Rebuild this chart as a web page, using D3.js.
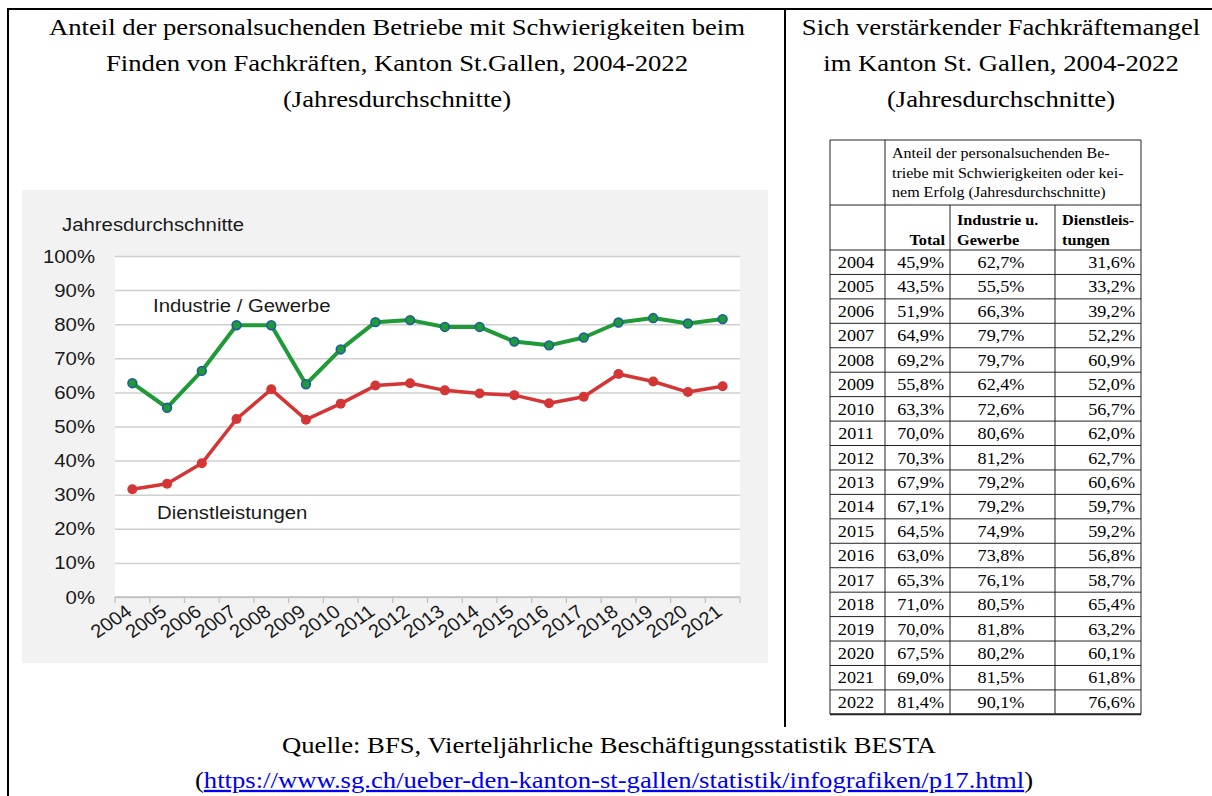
<!DOCTYPE html>
<html>
<head>
<meta charset="utf-8">
<title>Fachkräftemangel St.Gallen</title>
<style type="text/css">
    body { margin: 0; background: #fff; }
    svg { display: block; }
    .serif { font-family: "Liberation Serif", "Times New Roman", serif; fill: #000; }
    .sans { font-family: "Liberation Sans", Arial, sans-serif; fill: #1a1a1a; }
    .grid line { stroke: #cfcfcf; stroke-width: 1.5px; }
    .grid path { display: none; }
    .frame { stroke: #000; stroke-width: 2px; }
    .tbl { stroke: #222; stroke-width: 1px; }
</style>
</head>
<body>
<script src="https://cdn.jsdelivr.net/npm/d3@7"></script>
<script>
    var tableYears = [2004, 2005, 2006, 2007, 2008, 2009, 2010, 2011, 2012, 2013,
                      2014, 2015, 2016, 2017, 2018, 2019, 2020, 2021, 2022];
    var totalVals = [45.9, 43.5, 51.9, 64.9, 69.2, 55.8, 63.3, 70.0, 70.3, 67.9,
                     67.1, 64.5, 63.0, 65.3, 71.0, 70.0, 67.5, 69.0, 81.4];
    var industrieVals = [62.7, 55.5, 66.3, 79.7, 79.7, 62.4, 72.6, 80.6, 81.2, 79.2,
                         79.2, 74.9, 73.8, 76.1, 80.5, 81.8, 80.2, 81.5, 90.1];
    var dienstVals = [31.6, 33.2, 39.2, 52.2, 60.9, 52.0, 56.7, 62.0, 62.7, 60.6,
                      59.7, 59.2, 56.8, 58.7, 65.4, 63.2, 60.1, 61.8, 76.6];
    // the chart only runs to 2021
    var chartYears = tableYears.slice(0, 18);
    var yTicks = [0, 10, 20, 30, 40, 50, 60, 70, 80, 90, 100];

    var width = 1212, height = 796;
    // the source picture is stretched sideways, so text is too
    var serifStretch = 1.16, sansStretch = 1.1, tableStretch = 1.1;

    var svg = d3.select("body").append("svg")
        .attr("width", width)
        .attr("height", height);

    //  put a text at (x, y) and widen it by sx
    function stretched(parent, cls, x, y, sx, size, anchor, txt) {
        return parent.append("text").attr("class", cls)
            .attr("transform", "translate(" + x + "," + y + ") scale(" + sx + ",1)")
            .attr("text-anchor", anchor || "start")
            .style("font-size", size + "px")
            .text(txt);
    }

    // page frame
    svg.append("line").attr("class", "frame").attr("x1", 7).attr("x2", width).attr("y1", 9).attr("y2", 9);
    svg.append("line").attr("class", "frame").attr("x1", 8).attr("x2", 8).attr("y1", 8).attr("y2", height);
    svg.append("line").attr("class", "frame").attr("x1", 785).attr("x2", 785).attr("y1", 8).attr("y2", 727);

    // titles
    var leftTitle = ["Anteil der personalsuchenden Betriebe mit Schwierigkeiten beim",
                     "Finden von Fachkräften, Kanton St.Gallen, 2004-2022",
                     "(Jahresdurchschnitte)"];
    var rightTitle = ["Sich verstärkender Fachkräftemangel",
                      "im Kanton St. Gallen, 2004-2022",
                      "(Jahresdurchschnitte)"];
    leftTitle.forEach(function (t, i) {
        stretched(svg, "serif", 397, 35 + i * 36, serifStretch, 23, "middle", t);
    });
    rightTitle.forEach(function (t, i) {
        stretched(svg, "serif", 1001, 35 + i * 36, serifStretch, 23, "middle", t);
    });

    // ---- line chart ----
    var chart = svg.append("g");
    chart.append("rect").attr("x", 22).attr("y", 190).attr("width", 746).attr("height", 473).attr("fill", "#f2f2f2");

    var plotL = 115, plotR = 740, plotT = 256, plotB = 597;
    chart.append("rect").attr("x", plotL).attr("y", plotT)
        .attr("width", plotR - plotL).attr("height", plotB - plotT).attr("fill", "#fff");

    var x = d3.scaleBand().domain(chartYears).range([plotL, plotR]);
    var y = d3.scaleLinear().domain([0, 100]).range([plotB, plotT]);

    // gridlines
    chart.append("g").attr("class", "grid")
        .attr("transform", "translate(" + plotL + ",0)")
        .call(d3.axisLeft(y).tickValues(yTicks).tickSize(-(plotR - plotL)).tickFormat(""));
    // y labels
    yTicks.forEach(function (t) {
        stretched(chart, "sans", 95, y(t) + 6.5, sansStretch, 18.5, "end", t + "%");
    });

    // x baseline with tick marks between categories
    chart.append("line").attr("x1", plotL).attr("x2", plotR).attr("y1", plotB).attr("y2", plotB)
        .attr("stroke", "#bfbfbf").attr("stroke-width", 1.5);
    chart.append("g").selectAll("line").data(chartYears.concat(["end"])).enter().append("line")
        .attr("x1", (d, i) => plotL + i * x.bandwidth())
        .attr("x2", (d, i) => plotL + i * x.bandwidth())
        .attr("y1", plotB).attr("y2", plotB + 6)
        .attr("stroke", "#bfbfbf").attr("stroke-width", 1.2);

    // x labels, rotated
    chart.append("g").selectAll("text").data(chartYears).enter().append("text")
        .attr("class", "sans")
        .attr("text-anchor", "end")
        .attr("transform", d => "translate(" + (x(d) + x.bandwidth() / 2 + 1) + "," + (plotB + 17) +
              ") scale(" + sansStretch + ",1) rotate(-37)")
        .style("font-size", "18.5px")
        .text(d => d);

    stretched(chart, "sans", 62, 231, sansStretch, 18.5, "start", "Jahresdurchschnitte");

    var cx = d => x(d) + x.bandwidth() / 2;
    var line = d3.line().x((d, i) => cx(chartYears[i])).y(d => y(d));

    var indData = industrieVals.slice(0, 18), dienData = dienstVals.slice(0, 18);

    chart.append("path").datum(dienData).attr("d", line)
        .attr("fill", "none").attr("stroke", "#d43535").attr("stroke-width", 3.5).attr("stroke-linejoin", "round");
    chart.append("g").selectAll("circle").data(dienData).enter().append("circle")
        .attr("cx", (d, i) => cx(chartYears[i])).attr("cy", d => y(d)).attr("r", 5)
        .attr("fill", "#d43535");

    chart.append("path").datum(indData).attr("d", line)
        .attr("fill", "none").attr("stroke", "#1e9a36").attr("stroke-width", 4).attr("stroke-linejoin", "round");
    chart.append("g").selectAll("circle").data(indData).enter().append("circle")
        .attr("cx", (d, i) => cx(chartYears[i])).attr("cy", d => y(d)).attr("r", 4.4)
        .attr("fill", "#1e9a36").attr("stroke", "#1f5c9e").attr("stroke-width", 1.6);

    stretched(chart, "sans", 153, 312, sansStretch, 18.5, "start", "Industrie / Gewerbe");
    stretched(chart, "sans", 157, 519, sansStretch, 18.5, "start", "Dienstleistungen");

    // ---- table ----
    var tbl = svg.append("g");
    var colX = [830, 885, 950, 1055, 1141];
    var tTop = 140, h1 = 205, h2 = 250, rowH = 24.44;
    var tBot = h2 + tableYears.length * rowH;

    // horizontal rules
    var hLines = [tTop, h1, h2].concat(tableYears.map((d, i) => h2 + (i + 1) * rowH));
    tbl.selectAll("line.h").data(hLines).enter().append("line")
        .attr("class", "tbl")
        .attr("x1", colX[0]).attr("x2", colX[4])
        .attr("y1", d => d).attr("y2", d => d)
        .style("stroke-width", (d, i) => i === hLines.length - 1 ? 2 : 1);
    // vertical rules
    [[colX[0], tTop], [colX[1], tTop], [colX[2], h1], [colX[3], h1], [colX[4], tTop]].forEach(function (v) {
        tbl.append("line").attr("class", "tbl")
            .attr("x1", v[0]).attr("x2", v[0]).attr("y1", v[1]).attr("y2", tBot);
    });

    var headNote = ["Anteil der personalsuchenden Be-",
                    "triebe mit Schwierigkeiten oder kei-",
                    "nem Erfolg (Jahresdurchschnitte)"];
    headNote.forEach(function (t, i) {
        stretched(tbl, "serif", 892, 158 + i * 19.5, 1.07, 15, "start", t);
    });

    function headText(t, xx, yy, anchor) {
        stretched(tbl, "serif", xx, yy, 1.05, 15.5, anchor, t).style("font-weight", "bold");
    }
    headText("Total", 945, 245, "end");
    headText("Industrie u.", 957, 225, "start");
    headText("Gewerbe", 957, 245, "start");
    headText("Dienstleis-", 1062, 225, "start");
    headText("tungen", 1062, 245, "start");

    var fmt = v => d3.format(".1f")(v).replace(".", ",") + "%";
    tableYears.forEach(function (yr, i) {
        var yy = h2 + i * rowH + 18;
        stretched(tbl, "serif", 856, yy, tableStretch, 16.5, "middle", yr);
        stretched(tbl, "serif", 944, yy, tableStretch, 16.5, "end", fmt(totalVals[i]));
        stretched(tbl, "serif", 1001, yy, tableStretch, 16.5, "middle", fmt(industrieVals[i]));
        stretched(tbl, "serif", 1135, yy, tableStretch, 16.5, "end", fmt(dienstVals[i]));
    });

    // ---- source ----
    stretched(svg, "serif", 609, 753, serifStretch, 23, "middle",
              "Quelle: BFS, Vierteljährliche Beschäftigungsstatistik BESTA");
    var src = stretched(svg, "serif", 614, 788, serifStretch, 23, "middle", null);
    src.append("tspan").text("(");
    src.append("tspan").attr("fill", "#0000ee").style("text-decoration", "underline")
        .text("https://www.sg.ch/ueber-den-kanton-st-gallen/statistik/infografiken/p17.html");
    src.append("tspan").text(")");
</script>
</body>
</html>
